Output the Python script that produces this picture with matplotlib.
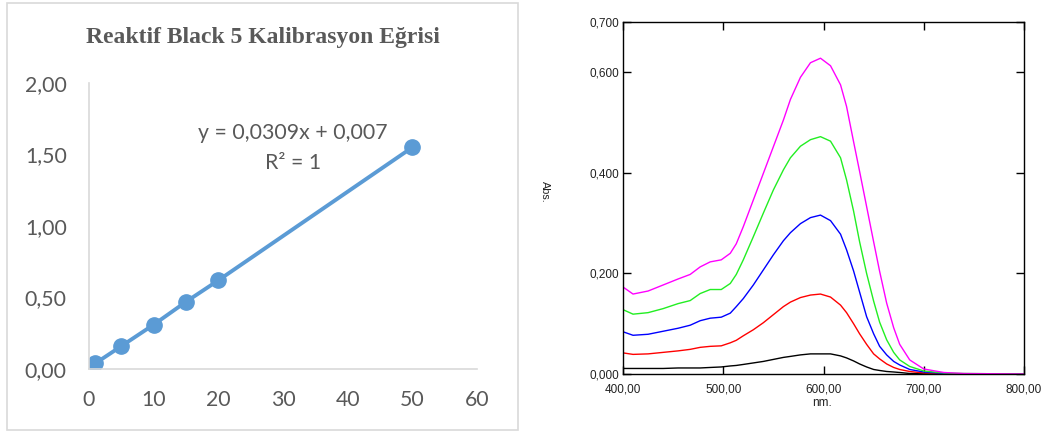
import numpy as np
import matplotlib
matplotlib.use("Agg")
import matplotlib.pyplot as plt
from matplotlib.patches import Rectangle

# --- left: calibration curve ---
conc = [1, 5, 10, 15, 20, 50]
absorb = [0.04, 0.16, 0.31, 0.47, 0.62, 1.55]
cal_xticks = [0, 10, 20, 30, 40, 50, 60]
cal_yticks = [0.0, 0.5, 1.0, 1.5, 2.0]
cal_ylabels = ["0,00", "0,50", "1,00", "1,50", "2,00"]
cal_title = "Reaktif Black 5 Kalibrasyon Eğrisi"
eq_text = "y = 0,0309x + 0,007"
r2_text = "R² = 1"

# --- right: absorption spectra ---
nm = [400, 410, 425, 440, 455, 467, 477, 487, 498, 507, 513, 520, 530, 540,
      550, 560, 567, 577, 587, 597, 607, 617, 623, 630, 636, 643, 650, 656,
      663, 670, 676, 686, 700, 720, 740, 800]
s_magenta = [0.173, 0.159, 0.165, 0.177, 0.189, 0.198, 0.213, 0.223, 0.227, 0.240,
             0.259, 0.293, 0.346, 0.399, 0.452, 0.505, 0.546, 0.590, 0.619, 0.628,
             0.613, 0.575, 0.532, 0.462, 0.403, 0.333, 0.263, 0.204, 0.141, 0.092,
             0.059, 0.028, 0.010, 0.003, 0.001, 0.0]
s_green = [0.128, 0.119, 0.122, 0.130, 0.140, 0.146, 0.160, 0.168, 0.168, 0.180,
           0.198, 0.227, 0.273, 0.320, 0.366, 0.406, 0.430, 0.453, 0.466, 0.472,
           0.463, 0.430, 0.386, 0.324, 0.263, 0.200, 0.145, 0.103, 0.068, 0.043,
           0.028, 0.015, 0.006, 0.002, 0.001, 0.0]
s_blue = [0.084, 0.077, 0.079, 0.085, 0.091, 0.097, 0.106, 0.111, 0.113, 0.121,
          0.134, 0.150, 0.177, 0.207, 0.237, 0.265, 0.281, 0.299, 0.311, 0.316,
          0.305, 0.278, 0.247, 0.205, 0.163, 0.114, 0.080, 0.055, 0.038, 0.025,
          0.018, 0.009, 0.004, 0.001, 0.0, 0.0]
s_red = [0.042, 0.039, 0.040, 0.043, 0.046, 0.049, 0.053, 0.055, 0.056, 0.062,
         0.067, 0.076, 0.088, 0.102, 0.118, 0.134, 0.143, 0.152, 0.157, 0.159,
         0.153, 0.137, 0.122, 0.100, 0.080, 0.059, 0.040, 0.030, 0.020, 0.013,
         0.009, 0.005, 0.002, 0.001, 0.0, 0.0]
s_black = [0.011, 0.011, 0.011, 0.011, 0.012, 0.012, 0.012, 0.013, 0.014, 0.016,
           0.017, 0.019, 0.022, 0.025, 0.029, 0.033, 0.035, 0.038, 0.040, 0.040,
           0.040, 0.036, 0.032, 0.026, 0.020, 0.014, 0.009, 0.007, 0.005, 0.004,
           0.003, 0.001, 0.001, 0.0, 0.0, 0.0]
spectra = [(s_black, "black"), (s_red, "#ff0000"), (s_blue, "#0000ff"),
           (s_green, "#22ee22"), (s_magenta, "#ff00ff")]
sp_xticks = [400, 500, 600, 700, 800]
sp_xlabels = ["400,00", "500,00", "600,00", "700,00", "800,00"]
sp_yticks = [0.0, 0.2, 0.4, 0.6, 0.7]
sp_ylabels = ["0,000", "0,200", "0,400", "0,600", "0,700"]

fig = plt.figure(figsize=(10.47, 4.32), dpi=100)
W, H = 1047, 432

# frame around the excel chart
fig.patches.append(Rectangle((7 / W, 1 - 430 / H), 511 / W, 427 / H,
                             transform=fig.transFigure, fill=False,
                             edgecolor="#d9d9d9", linewidth=1.2))

gray = "#595959"
ax1 = fig.add_axes([89 / W, 1 - 369 / H, 388 / W, 286 / H])
ax1.plot(conc, absorb, color="#5b9bd5", lw=2.8, marker="o", ms=11)
ax1.set_xlim(0, 60)
ax1.set_ylim(0, 2)
ax1.set_xticks(cal_xticks)
ax1.set_yticks(cal_yticks)
ax1.set_yticklabels(cal_ylabels)
for s in ["top", "right"]:
    ax1.spines[s].set_visible(False)
for s in ["left", "bottom"]:
    ax1.spines[s].set_color("#d9d9d9")
    ax1.spines[s].set_linewidth(1.2)
ax1.tick_params(length=0, labelsize=15.3, labelcolor=gray)
ax1.tick_params(axis="x", pad=15)
ax1.tick_params(axis="y", pad=16)
for lab in ax1.get_xticklabels() + ax1.get_yticklabels():
    lab.set_family("Lato")
ax1.text(0.525, 0.825, eq_text, transform=ax1.transAxes, ha="center", va="center",
         fontsize=15.3, color=gray, family="Lato")
ax1.text(0.525, 0.72, r2_text, transform=ax1.transAxes, ha="center", va="center",
         fontsize=15.3, color=gray, family="Lato")
fig.text(263 / W, 1 - 37 / H, cal_title, ha="center", va="center",
         fontsize=17, fontweight="bold", family="Liberation Serif", color=gray)

# spectra
ax2 = fig.add_axes([623 / W, 1 - 374 / H, 401 / W, 352 / H])
for vals, c in spectra:
    ax2.plot(nm, vals, color=c, lw=1.0)
ax2.set_xlim(400, 800)
ax2.set_ylim(0, 0.7)
ax2.set_xticks(sp_xticks)
ax2.set_xticklabels(sp_xlabels)
ax2.set_yticks(sp_yticks)
ax2.set_yticklabels(sp_ylabels)
ax2.tick_params(direction="in", length=6, width=1, top=True, right=True,
                labelsize=8.5, labelcolor="#222222")
ax2.tick_params(axis="x", pad=7)
ax2.tick_params(axis="y", pad=3)
for lab in ax2.get_xticklabels() + ax2.get_yticklabels():
    lab.set_family("Liberation Sans")
for s in ax2.spines.values():
    s.set_linewidth(1.0)
fig.text(822 / W, 1 - 403 / H, "nm.", ha="center", va="center",
         fontsize=8.5, family="Liberation Sans", color="#222222")
fig.text(545 / W, 1 - 192 / H, "Abs.", ha="center", va="center", rotation=270,
         fontsize=7.8, family="Liberation Sans", color="#222222")

fig.savefig("out.png", dpi=100, facecolor="white")
